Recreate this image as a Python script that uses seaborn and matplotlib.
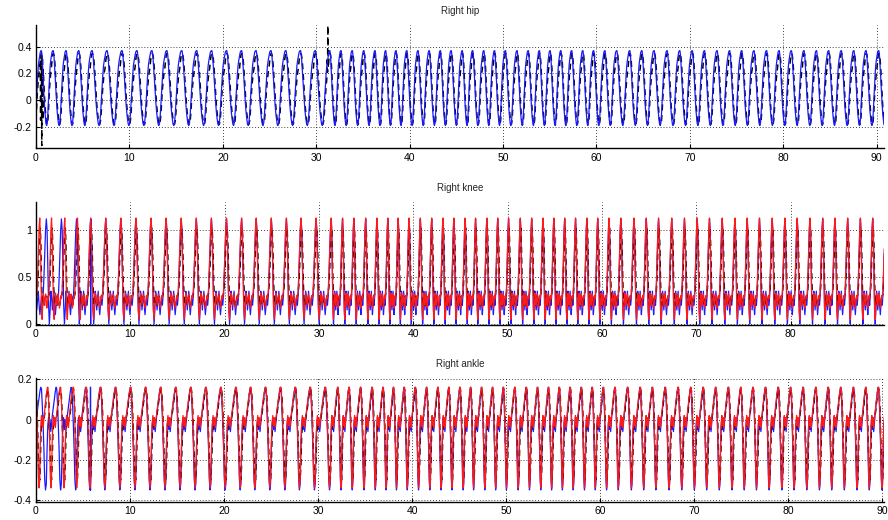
import numpy as np
import pandas as pd
import matplotlib
matplotlib.use("Agg")
import matplotlib.pyplot as plt
import seaborn as sns

# Times (s) of peak knee flexion; each interval is one gait cycle
cycle_anchors = [
    -1.0, 0.4, 1.65, 3.05, 4.4, 5.8, 7.4, 9.0, 10.6, 12.2, 13.8, 15.4, 17.0,
    18.6, 20.2, 21.8, 23.35, 24.95, 26.55, 28.1, 29.7, 31.3, 32.5, 33.7,
    34.95, 36.15, 37.3, 38.4, 39.55, 40.75, 41.95, 43.15, 44.3, 45.5, 46.6,
    47.8, 48.95, 50.1, 51.35, 52.55, 53.75, 54.9, 56.05, 57.2, 58.4, 59.55,
    60.75, 62.0, 63.4, 64.7, 66.0, 67.4, 68.75, 70.1, 71.4, 72.75, 74.1,
    75.4, 76.7, 78.05, 79.4, 80.7, 82.05, 83.4, 84.7, 86.05, 87.4, 88.7,
    90.05, 91.4,
]
# The blue trace peaks out of step with the others during the first cycles
blue_early_anchors = [-0.6, 1.1, 2.7, 4.3, 5.8]

# Phase within a cycle (0 = knee peak)
cycle_phase = [0.00, 0.05, 0.10, 0.15, 0.20, 0.25, 0.30, 0.35, 0.40, 0.45,
               0.50, 0.55, 0.60, 0.65, 0.70, 0.75, 0.80, 0.85, 0.90, 0.95]

# Right hip angle over one cycle
hip_blue = [0.33, 0.36, 0.37, 0.37, 0.33, 0.25, 0.16, 0.07, -0.02, -0.09,
            -0.14, -0.18, -0.19, -0.17, -0.10, 0.00, 0.10, 0.19, 0.26, 0.30]
hip_black = [0.24, 0.30, 0.34, 0.35, 0.34, 0.30, 0.23, 0.14, 0.05, -0.04,
             -0.10, -0.15, -0.18, -0.18, -0.15, -0.08, 0.02, 0.10, 0.16, 0.21]

# Right knee angle over one cycle
knee_blue = [1.12, 1.00, 0.60, 0.20, 0.00, 0.15, 0.35, 0.30, 0.15, 0.25,
             0.35, 0.20, 0.10, 0.20, 0.30, 0.20, 0.30, 0.50, 0.75, 1.00]
knee_red = [1.13, 0.95, 0.55, 0.15, 0.05, 0.20, 0.33, 0.28, 0.20, 0.27,
            0.32, 0.24, 0.17, 0.22, 0.30, 0.27, 0.35, 0.55, 0.80, 1.02]
knee_black = [0.98, 1.02, 0.80, 0.45, 0.22, 0.20, 0.30, 0.27, 0.20, 0.24,
              0.30, 0.25, 0.20, 0.23, 0.28, 0.30, 0.32, 0.42, 0.60, 0.82]

# Right ankle angle over one cycle
ankle_blue = [-0.32, -0.15, -0.03, 0.01, -0.05, 0.00, -0.06, -0.02, 0.02, 0.05,
              0.08, 0.11, 0.14, 0.16, 0.15, 0.07, -0.03, -0.15, -0.30, -0.35]
ankle_red = [-0.30, -0.12, -0.02, 0.02, -0.03, 0.01, -0.04, 0.00, 0.03, 0.06,
             0.09, 0.12, 0.14, 0.16, 0.16, 0.10, 0.00, -0.12, -0.28, -0.34]
ankle_black = [-0.30, -0.22, -0.08, -0.02, 0.00, -0.02, -0.01, 0.00, 0.02, 0.04,
               0.07, 0.10, 0.13, 0.15, 0.15, 0.12, 0.04, -0.08, -0.20, -0.28]

# Isolated excursions of the dashed hip trace (time, value)
hip_black_spike_t = [0.50, 0.62, 0.74, 31.15, 31.25, 31.35]
hip_black_spike_v = [-0.15, -0.34, -0.15, 0.30, 0.56, 0.30]


def cycle_series(template, early=None, extra_t=(), extra_v=()):
    anchors = list(cycle_anchors)
    if early:
        anchors = list(early) + anchors[len(early):]
    ts, vs = [], []
    for a, b in zip(anchors[:-1], anchors[1:]):
        for p, v in zip(cycle_phase, template):
            ts.append(a + p * (b - a))
            vs.append(v)
    ts = ts + list(extra_t)
    vs = vs + list(extra_v)
    order = np.argsort(ts, kind="stable")
    return pd.DataFrame({"t": np.asarray(ts)[order], "v": np.asarray(vs)[order]})


sns.set_theme(style="white")
plt.rcParams["font.family"] = ["Liberation Sans", "DejaVu Sans"]
plt.rcParams["axes.unicode_minus"] = False

fig = plt.figure(figsize=(8.88, 5.2), dpi=100)

BLUE, RED = "#1a1aff", "#ff1a1a"

panels = [
    dict(title="Right hip", rect=[0.0405, 0.7145, 0.955, 0.2375],
         xlim=(0, 90.8), ylim=(-0.362, 0.563),
         xticks=range(0, 91, 10), yticks=[-0.2, 0, 0.2, 0.4],
         series=[(cycle_series(hip_black, extra_t=hip_black_spike_t,
                               extra_v=hip_black_spike_v), "black", "--"),
                 (cycle_series(hip_blue), BLUE, "-")]),
    dict(title="Right knee", rect=[0.0405, 0.375, 0.955, 0.2365],
         xlim=(0, 89.9), ylim=(-0.01, 1.30),
         xticks=range(0, 81, 10), yticks=[0, 0.5, 1],
         series=[(cycle_series(knee_blue, blue_early_anchors), BLUE, "-"),
                 (cycle_series(knee_black), "black", "--"),
                 (cycle_series(knee_red), RED, "-")]),
    dict(title="Right ankle", rect=[0.0405, 0.0346, 0.955, 0.238],
         xlim=(0, 90.2), ylim=(-0.41, 0.205),
         xticks=range(0, 91, 10), yticks=[-0.4, -0.2, 0, 0.2],
         series=[(cycle_series(ankle_blue, blue_early_anchors), BLUE, "-"),
                 (cycle_series(ankle_black), "black", "--"),
                 (cycle_series(ankle_red), RED, "-")]),
]

for p in panels:
    ax = fig.add_axes(p["rect"])
    for df, color, ls in p["series"]:
        sns.lineplot(data=df, x="t", y="v", ax=ax, color=color,
                     estimator=None, sort=False, linewidth=0.9)
        line = ax.lines[-1]
        if ls == "--":
            line.set_dashes((4, 3))
            line.set_linewidth(1.1)
    ax.set_xlim(*p["xlim"])
    ax.set_ylim(*p["ylim"])
    ax.set_xticks(list(p["xticks"]))
    ax.set_yticks(p["yticks"])
    ax.set_xticklabels([f"{v:g}" for v in p["xticks"]])
    ax.set_yticklabels([f"{v:g}" for v in p["yticks"]])
    ax.set_xlabel("")
    ax.set_ylabel("")
    ax.set_title(p["title"], fontsize=7, pad=8)
    ax.grid(True, color="black", linestyle=(0, (1, 2.5)), linewidth=0.6)
    for side in ("top", "right"):
        ax.spines[side].set_visible(False)
    for side in ("left", "bottom"):
        ax.spines[side].set_color("black")
        ax.spines[side].set_linewidth(1.0)
    ax.tick_params(direction="in", length=3, width=0.8, labelsize=7.5,
                   colors="black", left=True, bottom=True, pad=3)
    ax.set_facecolor("white")

fig.savefig("out.png", dpi=100, facecolor="white")
